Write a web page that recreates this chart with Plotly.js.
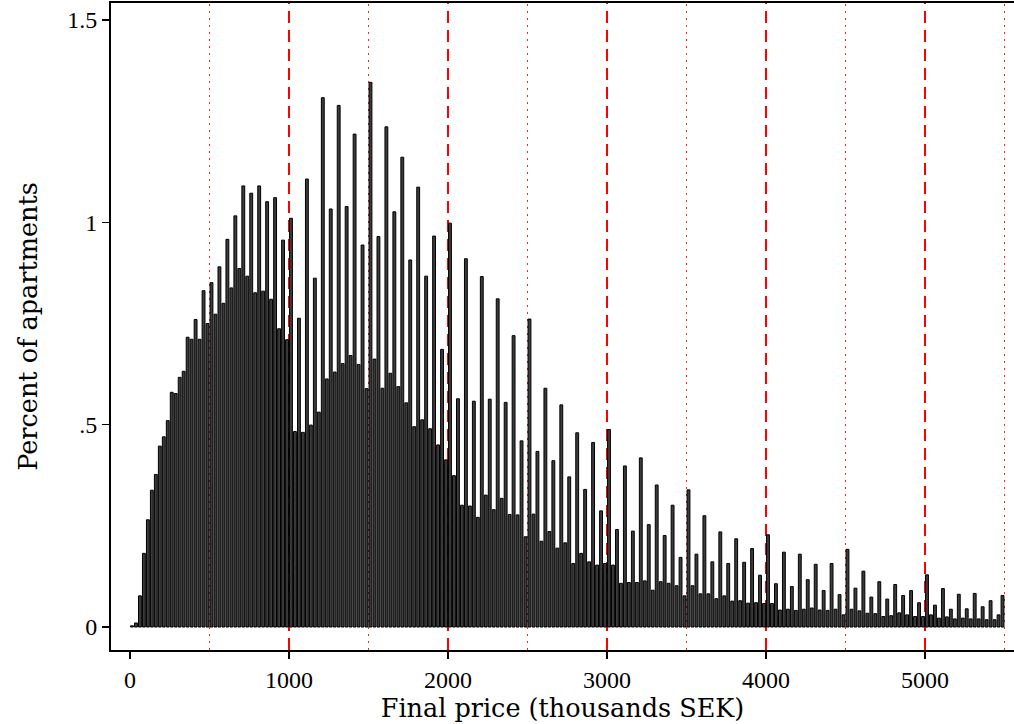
<!DOCTYPE html>
<html>
<head>
<meta charset="utf-8">
<script src="https://cdn.plot.ly/plotly-3.0.1.min.js"></script>
<style>
html,body{margin:0;padding:0;background:#fff;}
#chart{width:1014px;height:724px;}
</style>
</head>
<body>
<div id="chart"></div>
<script>
// Bin width (thousands SEK) and the lower edge of the first bin
const binWidth = 25;
const firstBin = 0;

// Percent of apartments per 25k bin, 0–975
const pct0to1000 = [0.003, 0.010, 0.077, 0.182, 0.265, 0.338, 0.377, 0.447, 0.470, 0.510,
                    0.580, 0.577, 0.617, 0.632, 0.716, 0.711, 0.760, 0.711, 0.831, 0.750,
                    0.851, 0.773, 0.890, 0.800, 0.958, 0.838, 1.016, 0.886, 1.090, 0.867,
                    1.072, 0.826, 1.090, 0.830, 1.051, 0.810, 1.061, 0.737, 0.956, 0.710];
// 1000–1975
const pct1000to2000 = [1.010, 0.483, 0.763, 0.481,  1.107, 0.499, 0.862, 0.531,
                       1.308, 0.613, 1.033, 0.630,  1.289, 0.651, 1.039, 0.671,
                       1.218, 0.649, 0.944, 0.589,  1.346, 0.662, 0.965, 0.590,
                       1.236, 0.627, 1.026, 0.594,  1.161, 0.554, 0.907, 0.495,
                       1.087, 0.512, 0.867, 0.490,  0.966, 0.450, 0.686, 0.413];
// 2000–2975
const pct2000to3000 = [0.998, 0.374, 0.564, 0.301,  0.910, 0.299, 0.558, 0.271,
                       0.866, 0.326, 0.563, 0.290,  0.811, 0.318, 0.555, 0.278,
                       0.720, 0.277, 0.460, 0.223,  0.761, 0.279, 0.434, 0.212,
                       0.590, 0.236, 0.411, 0.195,  0.549, 0.208, 0.371, 0.157,
                       0.480, 0.182, 0.340, 0.161,  0.456, 0.153, 0.287, 0.157];
// 3000–3975
const pct3000to4000 = [0.488, 0.153, 0.241, 0.108,  0.398, 0.110, 0.237, 0.110,
                       0.418, 0.114, 0.253, 0.091,  0.351, 0.112, 0.226, 0.108,
                       0.301, 0.102, 0.172, 0.077,  0.339, 0.102, 0.180, 0.082,
                       0.275, 0.082, 0.161, 0.070,  0.235, 0.077, 0.157, 0.064,
                       0.218, 0.065, 0.160, 0.059,  0.194, 0.060, 0.128, 0.058];
// 4000–4975
const pct4000to5000 = [0.228, 0.058, 0.107, 0.042,  0.185, 0.044, 0.100, 0.041,
                       0.180, 0.044, 0.117, 0.047,  0.155, 0.042, 0.090, 0.041,
                       0.157, 0.044, 0.080, 0.030,  0.192, 0.044, 0.096, 0.040,
                       0.138, 0.034, 0.074, 0.033,  0.112, 0.026, 0.069, 0.028,
                       0.105, 0.035, 0.078, 0.030,  0.090, 0.026, 0.060, 0.026];
// 5000–5500 (last bin closed at 5500)
const pct5000to5500 = [0.129, 0.030, 0.054, 0.022,  0.095, 0.025, 0.044, 0.020,
                       0.081, 0.022, 0.045, 0.020,  0.083, 0.020, 0.050, 0.018,
                       0.065, 0.018, 0.030, 0.078];

// Axis ticks and reference lines
const xTickVals = [0, 1000, 2000, 3000, 4000, 5000];
const yTickVals = [0, 0.5, 1, 1.5];
const yTickText = ['0', '.5', '1', '1.5'];
const dashedLines = [1000, 2000, 3000, 4000, 5000];
const dottedLines = [500, 1500, 2500, 3500, 4500, 5500];

const pct = [].concat(pct0to1000, pct1000to2000, pct2000to3000,
                      pct3000to4000, pct4000to5000, pct5000to5500);
const binCentre = pct.map((_, i) => firstBin + (i + 0.5) * binWidth);

const TICKFONT = 'Liberation Serif, serif';
const TITLEFONT = 'DejaVu Serif, serif';

const trace = {
  type: 'bar',
  x: binCentre,
  y: pct,
  marker: {color: '#3c3c3c', line: {color: '#000', width: 1}},
  hoverinfo: 'x+y'
};

const shapes = [];
dashedLines.forEach(v => shapes.push({
  type: 'line', xref: 'x', yref: 'paper', x0: v, x1: v, y0: 0, y1: 1,
  layer: 'below', line: {color: '#ff0000', width: 2, dash: '12px,7px'}
}));
dottedLines.forEach(v => shapes.push({
  type: 'line', xref: 'x', yref: 'paper', x0: v, x1: v, y0: 0, y1: 1,
  layer: 'below', line: {color: '#ff2020', width: 1, dash: '2px,5px'}
}));

const layout = {
  width: 1014, height: 724,
  margin: {l: 111, r: 0, t: 3, b: 74},
  paper_bgcolor: '#fff', plot_bgcolor: '#fff',
  showlegend: false,
  bargap: 0.28,
  font: {family: TICKFONT, color: '#000'},
  shapes: shapes,
  xaxis: {
    range: [-119.5, 5559.7],
    tickmode: 'array', tickvals: xTickVals,
    ticks: 'outside', ticklen: 7, tickwidth: 1.5, tickcolor: '#000',
    showline: true, linecolor: '#000', linewidth: 2, mirror: true,
    showgrid: false, zeroline: false,
    tickfont: {family: TICKFONT, size: 24, color: '#000'},
    title: {text: 'Final price (thousands SEK)', font: {family: TITLEFONT, size: 25.5, color: '#000'}, standoff: 3}
  },
  yaxis: {
    range: [-0.0568, 1.542],
    tickmode: 'array', tickvals: yTickVals, ticktext: yTickText,
    ticks: 'outside', ticklen: 7, tickwidth: 1.5, tickcolor: '#000',
    showline: true, linecolor: '#000', linewidth: 2,
    showgrid: false, zeroline: false,
    tickangle: 0,
    tickfont: {family: TICKFONT, size: 24, color: '#000'},
    title: {text: 'Percent of apartments', font: {family: TITLEFONT, size: 25.5, color: '#000'}, standoff: 22}
  }
};

Plotly.newPlot('chart', [trace], layout, {displayModeBar: false, staticPlot: true});
</script>
</body>
</html>
